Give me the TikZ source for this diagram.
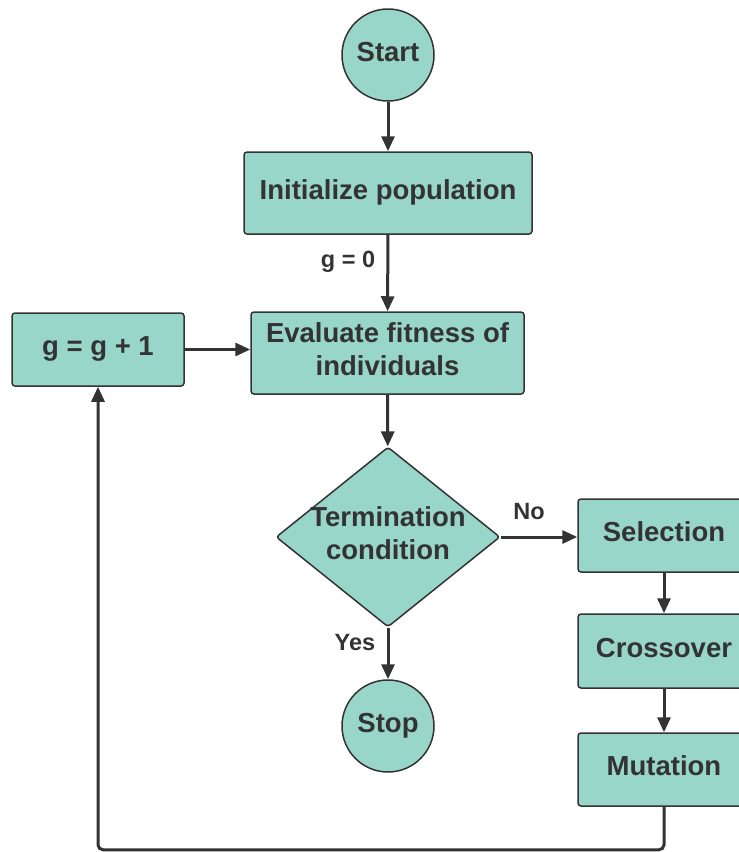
\documentclass[tikz,border=0pt]{standalone}
\usepackage{fontspec}
\setmainfont{Liberation Sans}
\usetikzlibrary{shapes.geometric,arrows.meta}
\definecolor{boxfill}{RGB}{153,214,202}
\definecolor{ink}{RGB}{51,51,51}
\tikzset{
	box/.style={draw=ink, fill=boxfill, line width=1.5pt, rounded corners=3pt,
		text=ink, font=\bfseries\fontsize{27.5}{33}\selectfont, align=center,
		inner sep=0pt, text height=20pt, text depth=8pt},
	twolines/.style={text height=53pt},
	term/.style={box, circle, minimum size=92pt},
	proc/.style={box, rectangle},
	cond/.style={box, twolines, diamond, aspect=1.244, inner sep=-2pt,
		minimum width=224pt, minimum height=180pt},
	flow/.style={draw=ink, line width=3pt, -{Triangle[length=15pt,width=13pt]}},
	lbl/.style={text=ink, font=\bfseries\fontsize{23.5}{28}\selectfont}
}
\begin{document}
\begin{tikzpicture}[x=1pt, y=-1pt]
	\useasboundingbox (0,0) rectangle (739,852);
	% Hauptstrang
	\node[term] (start) at (388,55) {Start};
	\node[proc, minimum width=288pt, minimum height=82pt] (init) at (388,193)
		{Initialize population};
	\node[proc, twolines, minimum width=273pt, minimum height=82pt] (eval)
		at (387.5,353) {Evaluate fitness of\\individuals};
	\node[cond] (term) at (388,537) {Termination\\condition};
	\node[term] (stop) at (388,726) {Stop};
	% Zaehler
	\node[proc, minimum width=172pt, minimum height=73pt] (gnext) at (98,349.5)
		{g = g + 1};
	% Operatoren rechts
	\node[proc, minimum width=172pt, minimum height=73pt] (sel) at (664,535.5)
		{Selection};
	\node[proc, minimum width=172pt, minimum height=74pt] (cross) at (664,651)
		{Crossover};
	\node[proc, minimum width=172pt, minimum height=73pt] (mut) at (664,769.5)
		{Mutation};
	% Beschriftungen
	\node[lbl] (gzero) at (348,262) {g = 0};
	\node[lbl] (no) at (529,512) {No};
	\node[lbl] (yes) at (355,643) {Yes};
	% Pfeile
	\draw[flow] (start) -- (init);
	\draw[flow] (init) -- (eval);
	\draw[flow] (eval) -- (term);
	\draw[flow] (term) -- (stop);
	\draw[flow] (term) -- (term -| sel.west);
	\draw[flow] (sel) -- (cross);
	\draw[flow] (cross) -- (mut);
	\draw[flow] (gnext.east) -- (gnext.east -| eval.west);
	\draw[flow, rounded corners=5pt] (mut.south) -- ++(0,43) -| (gnext.south);
\end{tikzpicture}
\end{document}
